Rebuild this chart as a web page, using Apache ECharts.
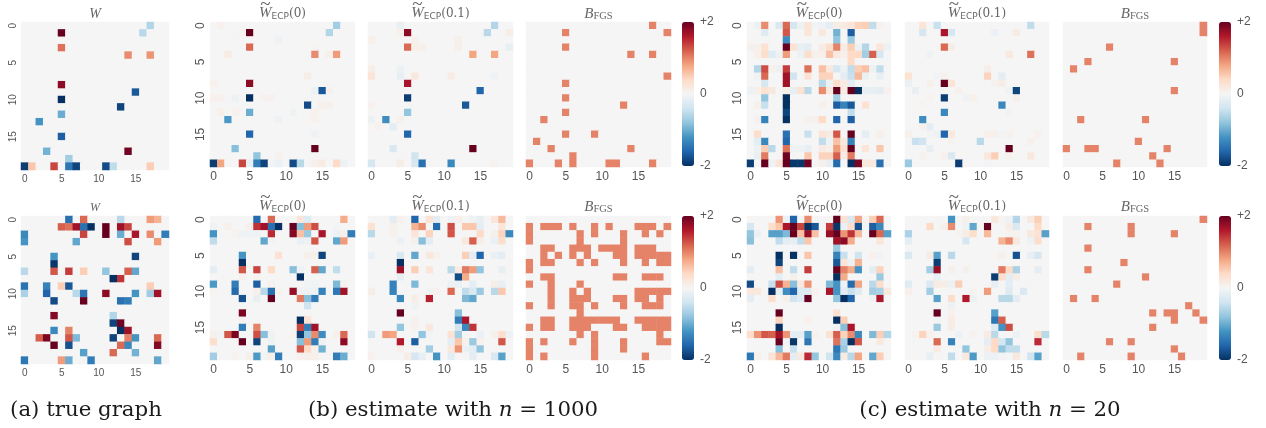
<!DOCTYPE html>
<html><head><meta charset="utf-8">
<style>html,body{margin:0;padding:0;background:#fff}#c{width:1266px;height:428px}</style>
<script src="https://cdn.jsdelivr.net/npm/echarts@6/dist/echarts.min.js"></script></head>
<body><div id="c"></div>
<script>
// Sparse readings: each entry is [row, col, value, col, value, ...]; anything unlisted reads as 0.
const topTrue = [[0,17,-.6],[1,5,2,16,-.55],[3,5,1.1],[4,14,.95,17,.9],[8,5,1.8],[9,15,-1.7],[10,5,-2],[11,13,-1.85],[12,5,-1],[13,2,-1.2],[15,5,-1.65],[17,3,-.95,14,1.95],[18,6,-.7],[19,0,-1.9,1,.55,4,1.35,6,-1.45,7,-1.85,11,-1.8,12,-.5,17,.5]];
const topEcp0N1000 = [[0,1,.08,17,-.7],[1,4,.05,5,2,16,-.6],[2,9,-.08],[3,5,1.15,14,.05],[4,2,.15,14,.95,16,.1,17,.85],[7,13,.12],[8,0,.08,5,1.8],[9,14,-.1,15,-1.7,16,.06],[10,0,.08,1,.08,3,-.1,5,-2,7,.06,8,.06],[11,13,-1.8,15,.1,16,.07],[12,1,.1,3,.08,5,-1,11,-.08,14,.08],[13,2,-1.15,9,-.08,14,.08],[15,5,-1.6,14,-.08],[17,3,-.85,14,2],[18,6,-.8,9,.06],[19,0,-1.9,1,.8,4,1.35,5,-.15,6,-1.4,7,-1.85,8,-.05,9,-.12,11,-1.8,12,-.55,14,.1,15,.15,17,.4,18,-.1]];
const topEcp01N1000 = [[0,4,-.15,17,-.6],[1,4,.1,5,1.8,16,-.55,19,.12],[2,0,.1,6,.1,12,.1],[3,5,1.15,6,.1,7,.1,12,.1,19,-.15],[4,14,.8,17,.8],[6,0,.12,4,-.1],[7,0,.25,4,-.15,6,.2,11,.15,17,-.08],[8,5,1.65],[9,15,-1.6],[10,5,-1.9],[11,0,.06,13,-1.7],[12,5,-.8],[13,0,-.1,2,-1.25,4,.1],[14,1,.08,3,-.2],[15,5,-1.6],[17,3,-.3,14,2],[18,6,-.4],[19,0,-.35,4,.12,6,-.35,7,-1.5,11,-1.3,17,.05]];
const topFgsN1000 = [[0,17],[1,5,19],[3,5],[4,14,17],[7,19],[8,5],[10,5],[11,13],[12,5],[13,2],[15,5,9],[16,1],[17,3,14],[18,6],[19,0,4,6,11,12,17]];
const topEcp0N20 = [[0,1,-.1,2,.95,4,-.3,5,1.15,6,-.35,7,-.1,8,.25,9,-.05,10,-.08,11,-.2,12,.12,13,.15,14,.25,15,.45,16,.5,17,-.5,18,.08],[1,2,-.25,5,1.25,8,.25,10,.2,12,-.95,14,-1.65],[2,5,-1.25,12,-.8,14,-.75],[3,0,.07,1,.07,2,.3,5,2,6,.3,7,-.15,8,-.2,10,.15,11,.35,12,1,13,.15,14,.5,15,-.1,16,-.6,18,.25,19,-.1],[4,1,.1,2,.35,3,-.25,4,-.1,5,.85,7,-.1,8,.35,9,.1,10,.07,11,.6,12,.2,13,.1,14,.4,15,.4,16,-.7,17,1.2,18,-.35],[5,14,.4],[6,1,-.6,2,1.3,3,.08,4,-.1,5,1.4,8,1.1,10,.6,11,.2,12,-.35,13,-.1,14,-.5,15,.5,16,.6,17,-.1,18,-.5],[7,1,-.08,2,1.15,5,1.7,6,-.4,8,.3,10,.45,11,.45,13,-.2,14,-.45,15,.65,16,-.12,18,-.15],[8,2,-.35,5,1.7,10,-.55,11,-.1,12,.35,13,.15,14,-.2],[9,0,-.1,1,.1,2,.3,3,.2,5,.1,6,-.15,7,.3,8,-.55,10,.95,11,.2,12,2,13,.15,14,2,15,-2,16,-.15,17,-.15,18,-.2,19,.08],[10,2,-.8,5,-2,12,-.7],[11,1,.1,2,-.45,5,-2,10,.07,12,-1.65,13,-1.35,14,-1.7,16,.3],[12,5,-1.85,14,-.5],[13,1,.06,2,-1.35,5,-2,8,.06,9,.07,10,.4,12,-1.6,14,-1.65],[15,1,.35,5,-1.5,8,-.45,10,.25,11,.15,12,1.25,14,2,16,-.2,18,.1],[16,1,-.2,2,-1.3,5,-1.6,10,-.5,11,-.1,12,.6,13,.2,14,-1.35],[17,1,-.1,2,.5,3,-.55,5,1.1,6,-.08,7,-.08,8,-.15,10,.15,11,.1,12,.85,13,.3,14,2,16,.25,18,.55],[18,1,-.15,2,1.05,5,1.95,8,.55,10,.45,11,.45,12,1.2,13,.15,14,1.05],[19,0,-1.9,2,2,3,-.08,4,.25,5,2,6,-1.95,7,-1.95,8,1.95,10,.07,11,-.15,12,-1.55,14,-2,15,1.9,16,.2,17,.2,18,-1.5]];
const topEcp01N20 = [[0,2,.25,4,-.45,17,-.5],[1,2,-.35,5,1.65,6,-.35,12,-.12,15,.15],[3,5,1.15,6,.12],[4,3,-.08,14,.2,17,1.1],[6,11,.12],[7,0,.3,4,-.06,5,.06,11,.45,13,-.2],[8,0,-.12,3,.07,5,2,6,.25,12,.06,13,.12],[9,1,-.15,7,.08,14,-.08,15,-1.85],[10,3,.05,5,-1.9,8,-.07,9,.1,15,.07],[11,2,.05,13,-1.3],[12,5,-1.3,14,-.06],[13,2,-1.25],[14,2,.08,3,-.2],[15,0,.1,3,-.05,4,-.1,5,-1.6,6,.2,11,.1,12,.1,13,-.05,14,.08,18,.08],[16,1,-.45,2,-.4,6,.05,10,-.55,17,.1],[17,3,-.15,14,2],[18,2,.06,5,.08,6,-.3,11,.2,12,.5,14,.05,17,.2],[19,0,-.75,7,-1.9,11,-.05]];
const topFgsN20 = [[0,19],[1,19],[3,6],[5,3,15],[6,1],[9,15],[13,2,11],[16,10],[17,0,3,4,14],[18,12],[19,7,13]];
const botTrue = [[0,6,-1.5,8,1.15,13,-.55,17,.85,18,.7],[1,5,1.2,6,1.1,7,1.7,8,-1.5,9,-2,11,2,13,1.7,14,1.35],[2,0,-1.3,8,1.35,11,2,13,-1,15,1.65,17,.95,19,-1.4],[3,0,-1.2,7,-1.05,14,1.3,18,.85],[5,4,-1.2,15,-1.85],[6,4,-1.95],[7,0,-.55,4,1.25,6,1.4,8,.5,11,-.8,14,1.2,15,-1.05],[8,12,-2,13,1.45],[9,0,-1.5,3,-1.35,5,.5,6,-1.7,17,.5],[10,0,-.65,3,-1.6,7,-.55,8,-1.45,11,1.8,15,-1.2,17,-.7,18,1.7],[11,4,-1.8,8,2,13,-1.5,14,-1.4],[13,4,1.85,12,-.6],[14,12,-1.85,13,1.95],[15,4,-1.3,6,1,13,-2,14,1.7],[16,2,1.2,3,1.9,6,1.25,7,-.9,12,-1.85,14,1,15,-1.2,18,1.15],[17,4,2,6,-1.75,13,1.15,14,-1.3,18,1.85],[18,8,-1.1,12,1.15,15,-.95],[19,0,-1.45,5,.85,6,-1,9,-1.4,18,-1.05]];
const botEcp0N1000 = [[0,6,-1.55,8,1.15,12,.25,13,-.25,18,.75],[1,0,-.07,2,.1,5,.1,6,1.45,7,1.7,8,-1.5,9,-2,11,2,12,-.85,13,.85,14,1.3,17,-.05],[2,0,-1.2,3,.05,4,-.07,5,-.07,6,-.07,8,1.5,11,1.85,12,.6,13,-.75,15,1.65,17,-.1,18,.1,19,-1.4],[3,0,-.5,7,-1.05,8,-.05,12,-.12,13,-.1,14,1.25,17,-1.05,18,.85],[5,4,-1.2,9,.3,13,.07,14,.1,15,-1.85],[6,4,-2],[7,0,-.2,4,1.25,6,1.35,8,.4,11,-.85,12,-.07,14,1.2,15,-1.05,17,-.5],[8,4,.06,6,.05,12,-2],[9,0,-1.15,3,-1.4,6,-1.65,8,.06,13,-.06,14,-.06,17,-.9,18,.06],[10,0,.05,3,-1.55,6,.1,7,-.55,8,-1.5,9,.06,11,1.75,12,-.07,13,-.07,14,-.07,15,-1.35,17,-1.45,18,1.7],[11,4,-1.75,6,-.15,8,2,12,1.05,13,-.85,14,-1.4],[12,13,-.4],[13,4,1.9],[14,4,.06,12,-2,13,.3],[15,4,-1.4,6,1,12,1.35,13,-1.4,14,1.7],[16,0,.07,1,-.05,2,1.25,3,1.9,6,1.3,7,-.85,8,-.07,11,.05,12,-1.9,13,-.8,14,.95,15,-1.25,17,.07,18,1.15],[17,0,.35,4,2,6,-1.85,8,-.07,12,-.85,13,.85,14,-1.4,15,-.07,18,1.8],[18,8,-1.1,12,1.25,13,.4,14,.08,15,-.95],[19,0,-.7,3,.05,5,.1,6,-1.15,7,-.05,8,.1,9,-1.4,12,.08,13,.07,14,.1,17,-1.4,18,-1]];
const botEcp01N1000 = [[0,3,-.2,4,.08,6,-1.6,8,.3,9,-.2,11,-.07,12,.1,14,-.07,15,-.15,17,.25,18,.65],[1,0,.3,3,.1,6,.7,7,.95,9,-1.55,11,1.3,13,.55,14,.55,15,-.2,18,.25],[2,0,-.55,3,.06,6,.25,8,.45,11,1.25,15,.4,17,.1,18,.45,19,-1.3],[3,4,-.12,6,.1,7,-.85,8,-.2,13,.2,14,1.2,15,.12,17,-.12,18,.35],[5,0,-.12,4,-.3,6,-1.05,8,.2,9,.08,13,.5,14,-.2,15,-1.6,17,-.12,18,-.2],[6,4,-2],[7,4,1.7,6,.5,8,.25,11,-.55,12,.15,13,1.05,14,.85,15,-.8,18,-.15],[8,4,-.15,12,-1.8,13,.75],[9,3,-1.35,6,-.9,11,-.1,12,-.12,14,-.2,17,.12,18,-.15],[10,0,.12,3,-1.35,8,-.06,9,.06,11,1.15,13,-.5,14,-.3,15,-.75,17,-.55,18,.55],[11,4,-1.3,6,.12,8,1.55,13,-.9,14,-1.05],[12,6,-.07],[13,4,2,12,-.85],[14,6,.07,12,-1.4,13,1.65],[15,4,-.8,6,.06,8,.2,12,-.4,13,-1.3,14,1.45],[16,0,-.4,2,.85,3,.8,7,-.8,8,-.05,11,.3,12,-.7,15,-.12,17,.1,18,.35,19,-.1],[17,4,1.6,6,-1.65,11,-.2,12,.55,13,.08,14,-.75,15,.08,18,1.25],[18,4,.1,8,-.7,11,.2,12,.9,13,-.12,14,-.2,15,-.8],[19,0,.08,5,.12,6,-.35,7,-.15,9,-1.2,11,-.2,14,-.2,17,-.3,18,-1.1]];
const botFgsN1000 = [[1,0,2,3,4,6,9,11,15,16,17,19],[2,0,7,9,13,16,18],[3,0,7,13],[4,2,3,6,7,8,10,11,12,13,15,16,17],[5,2,4,6,8,12,13,15,16,17,18,19],[6,0,2,3,7,9,13,16,18,19],[7,0],[8,2,3,12,13,16,17,18],[9,0,3,7],[10,3,6,8,15,16,17,18,19],[11,3,6,7,8,12,13,15,16,18],[12,0,3,6,7,9,13,16,17,18],[13,7],[14,2,3,6,7,8,9,10,11,12,15,16,17,18,19],[15,0,2,3,6,7,8,12,13,16,17,18,19],[16,7,9,18],[17,0,2,6,9,13,18,19],[18,0,9,13],[19,0,2,9,16]];
const botEcp0N20 = [[0,4,.9,5,-.1,6,-1.6,8,.95,12,2,13,.3,14,-.3,15,.8,17,.5,18,1.15],[1,0,-.35,3,.35,4,.55,5,1.65,6,2,7,1.35,8,-2,9,-1.7,11,1.4,12,-1.95,13,-.12,14,.35,15,-1.75,17,-1.65,18,-1.3],[2,0,-.8,1,-.12,3,-1.1,4,-1.1,5,-.9,6,2,7,.6,8,1.75,9,.6,11,1.75,12,2,13,.9,14,1.45,15,.65,17,2,18,1.15,19,-1.1],[3,0,-.85,4,-.5,5,-.2,6,-.15,7,-.5,8,.55,12,1.7,13,1.8,14,.75,18,.25],[4,12,-.75],[5,4,-2,6,-2,8,.55,12,-1.35,13,-.45,15,-.4,17,.08,18,-.07],[6,4,-1.85,12,-1.7,13,.25,14,-.1,15,.7],[7,0,-.2,4,.6,6,-.5,8,1.4,12,2,13,1,14,.75,15,-1.2,17,-.2,18,.45],[8,4,-.2,6,.1,12,-2,13,.75,18,-.75],[9,0,-1.8,3,-.45,4,1.3,5,.7,6,-.85,7,.2,8,.9,11,-.9,12,-1.2,13,-.1,14,-1.55,15,.8,17,-.55,18,.35],[10,0,.2,1,.2,3,-2,4,-.15,5,-1.25,6,-1.6,7,-.25,8,-.25,9,.08,11,1.65,12,-1.2,13,-.2,14,-.45,15,-.25,17,-.7,18,-.65,19,.2],[11,0,-.2,3,.35,5,.1,6,-.4,7,-.25,8,2,12,-.8,13,-2,14,-1.6,17,-.08,18,1.65],[13,4,2,12,.3],[14,4,.45,8,.08,12,-2,13,.5],[15,4,-2,12,-.08,13,-.85,14,1.65],[16,0,.35,1,.9,2,1.25,3,1.2,4,1.7,5,.9,6,-.2,7,-.2,8,-1.1,9,.06,11,.3,12,1.2,13,.45,14,.95,15,-1.3,17,-.9,18,.5,19,-.6],[17,4,2,5,-.05,6,-1.95,8,-1.45,12,1.1,13,-.65,14,-2,15,1.25,18,.2],[18,4,-.85,6,-.45,12,-1.45,13,-.75],[19,0,-1.45,1,.07,3,.25,4,.65,5,1.05,6,-.2,7,.2,8,1.5,9,-.8,11,-.4,12,-1.3,13,.15,14,-.55,15,.8,17,-1.05,18,.5]];
const botEcp01N20 = [[0,6,-1.2,8,.1,12,.2,13,.05,14,-.08,15,-.6,17,.2,18,.5],[1,3,.4,5,.1,6,.95,8,-.08,9,-1.05,11,2,14,.12,15,-.3,18,.4],[2,0,-.65,7,.05,8,.12,9,.35,11,.65,14,.05,15,.05,17,.2,18,.3,19,-1.1],[3,0,-.2,8,-.35,13,.7,14,.95,15,.2,17,-.1,18,.35],[5,0,-.3,3,.15,4,-1.1,6,-.55,13,.07,15,-1.75,17,-.15,18,-.35],[6,4,-1.9],[7,3,-.7,4,1.75,6,.07,8,.07,13,1.05,14,.4,15,-.65,18,-.2],[8,4,-.15,12,-1.9,13,.35,14,-.2,15,.12],[9,0,-.25,3,-.3,4,.15,5,.12,6,-.1,7,.5,12,-.15,14,-.2],[10,0,.1,3,-.7,9,.05,11,.85,14,-.25,16,-.3],[11,4,-1.1,6,.35,8,1.6,9,-.1,13,-.55,14,-.55,15,-.2],[12,6,-.1],[13,4,2,6,.08,12,-1.1],[14,4,-.05,6,.15,12,-1.45,13,1.2],[15,4,-.75,6,.12,12,-.25,13,-1.2,14,1.3],[16,1,.05,2,.45,3,.08,7,-.1,9,.06,11,.15,12,-.55,15,-.1,18,.35,19,-.55],[17,4,1.15,6,-1.35,11,-.2,12,.4,13,-.35,14,-.8,18,1.5],[18,4,.15,8,-.8,11,.12,12,.4,13,-.8,14,-.5,15,-.5],[19,3,-.15,6,-.5,8,.2,9,-1.15,11,-.1,12,-.1,13,-.05,15,.2,17,-.4,18,-1.1]];
const botFgsN20 = [[0,19],[1,3,9],[2,9,15],[4,3],[6,8],[7,3],[8,11],[9,7],[11,1,4],[12,17],[13,12,14,15,18],[14,15,19],[15,12],[17,6,9],[18,15],[19,2,9,16]];
const fgsValue = 1;
const cellLabels = ['0','1','2','3','4','5','6','7','8','9','10','11','12','13','14','15','16','17','18','19'];
const colorStops = ['#053061','#2166ac','#4393c3','#92c5de','#d1e5f0','#f5f5f5','#fddbc7','#f4a582','#d6604d','#b2182b','#67001f'];
const barTicks = {'-2':'-2','0':'0','2':'+2'};
const captions = [['(a) true graph',86],['(b) estimate with {i|n} = 1000',453],['(c) estimate with {i|n} = 20',990]];

function weighted(rows){const m={};rows.forEach(r=>{for(let i=1;i<r.length;i+=2)m[r[0]+'_'+r[i]]=r[i+1];});return m;}
function binary(rows){const m={};rows.forEach(r=>{for(let i=1;i<r.length;i++)m[r[0]+'_'+r[i]]=fgsValue;});return m;}
function cells(m){const out=[];cellLabels.forEach((_,r)=>cellLabels.forEach((_,c)=>out.push([c,r,m[r+'_'+c]||0])));return out;}

const panelX=[[21,148],[210,145],[368,145],[526,145],[747,144],[905,144],[1063,144]];
const kinds=['W','E0','E1','B','E0','E1','B'];
const rowsDef=[
 {top:22,h:[148,145,145,145,145,145,145],barTop:22,data:[weighted(topTrue),weighted(topEcp0N1000),weighted(topEcp01N1000),binary(topFgsN1000),weighted(topEcp0N20),weighted(topEcp01N20),binary(topFgsN20)],titleY:12,wTop:7,wSize:14},
 {top:216,h:[148,144,144,144,144,144,144],barTop:216,data:[weighted(botTrue),weighted(botEcp0N1000),weighted(botEcp01N1000),binary(botFgsN1000),weighted(botEcp0N20),weighted(botEcp01N20),binary(botFgsN20)],titleY:205,wTop:202,wSize:12}
];
const grid=[],xAxis=[],yAxis=[],series=[],title=[],visualMap=[];
const axisColor='#555';
const rich={w:{fontFamily:'Liberation Serif',fontStyle:'italic',fontWeight:'normal',fontSize:15,color:'#666'},
 s:{fontFamily:'DejaVu Sans',fontWeight:'normal',fontSize:9,color:'#666',verticalAlign:'bottom',padding:[5,0,0,0]},
 n:{fontFamily:'DejaVu Serif',fontWeight:'normal',fontSize:12,color:'#666'},
 f:{fontFamily:'Liberation Serif',fontWeight:'normal',fontSize:10.5,color:'#666',verticalAlign:'bottom',padding:[5,0,0,0]}};
rowsDef.forEach((row,ri)=>{
 panelX.forEach((p,pi)=>{
  const g=grid.length, small=pi===0;
  grid.push({left:p[0],top:row.top,width:p[1],height:row.h[pi],show:false});
  xAxis.push({type:'category',gridIndex:g,data:cellLabels,position:'bottom',axisLine:{show:false},axisTick:{show:false},splitLine:{show:false},
   axisLabel:{interval:4,fontFamily:'Liberation Sans',fontSize:small?10:12,color:axisColor,margin:4}});
  yAxis.push({type:'category',gridIndex:g,data:cellLabels,inverse:true,axisLine:{show:false},axisTick:{show:false},splitLine:{show:false},
   axisLabel:{show:pi===0||pi===1||pi===4,interval:4,rotate:90,fontFamily:'Liberation Sans',fontSize:small?10:12,color:axisColor,margin:3}});
  series.push({type:'heatmap',xAxisIndex:g,yAxisIndex:g,data:cells(row.data[pi]),silent:true,animation:false,progressive:0,emphasis:{disabled:true}});
  const cx=p[0]+p[1]/2, t=row.titleY;
  const k=kinds[pi];
  if(k==='W'){title.push({text:'W',left:cx,top:row.wTop,textAlign:'center',textStyle:{fontFamily:'Liberation Serif',fontStyle:'italic',fontWeight:'normal',fontSize:row.wSize,color:'#666'},padding:0});}
  else if(k==='B'){title.push({text:'{w|B}{f|FGS}',left:cx,top:t-6,textAlign:'center',textStyle:{rich,fontWeight:'normal',fontSize:14},padding:0});}
  else{
   const txt=k==='E0'?'{w|W}{s|ECP}{n|(0)}':'{w|W}{s|ECP}{n|(0.1)}';
   title.push({text:txt,left:cx,top:t-6,textAlign:'center',textStyle:{rich,fontWeight:'normal',fontSize:14},padding:0});
   title.push({text:'~',left:cx+(k==='E0'?-17:-23),top:t-16,textAlign:'center',textStyle:{fontFamily:'Liberation Serif',fontWeight:'normal',fontSize:19,color:'#666'},padding:0});
  }
 });
 [[682,0,4],[1219,4,7]].forEach(b=>{
  const g=grid.length;
  grid.push({left:b[0],top:row.barTop,width:12,height:144,show:false});
  xAxis.push({type:'value',gridIndex:g,show:false,min:0,max:1});
  yAxis.push({type:'value',gridIndex:g,position:'right',min:-2,max:2,interval:2,axisLine:{show:false},axisTick:{show:false},splitLine:{show:false},
   axisLabel:{margin:6,fontFamily:'Liberation Sans',fontSize:12,color:axisColor,formatter:v=>barTicks[v]}});
  const idx=[];for(let i=b[1];i<b[2];i++)idx.push(ri*7+i);
  visualMap.push({type:'continuous',min:-2,max:2,seriesIndex:idx,left:b[0],top:row.barTop,itemWidth:12,itemHeight:144,text:null,showLabel:false,calculable:false,padding:0,borderWidth:0,inRange:{color:colorStops},hoverLink:false});
 });
});
captions.forEach(c=>title.push({text:c[0],left:c[1],top:400,textAlign:'center',padding:0,textStyle:{fontFamily:'DejaVu Serif',fontWeight:'normal',fontSize:21.3,color:'#1a1a1a',rich:{i:{fontFamily:'DejaVu Serif',fontStyle:'italic',fontWeight:'normal',fontSize:21.3,color:'#1a1a1a'}}}}));
const chart=echarts.init(document.getElementById('c'),null,{renderer:'canvas'});
chart.setOption({animation:false,backgroundColor:'#fff',grid,xAxis,yAxis,series,title,visualMap});
</script></body></html>
